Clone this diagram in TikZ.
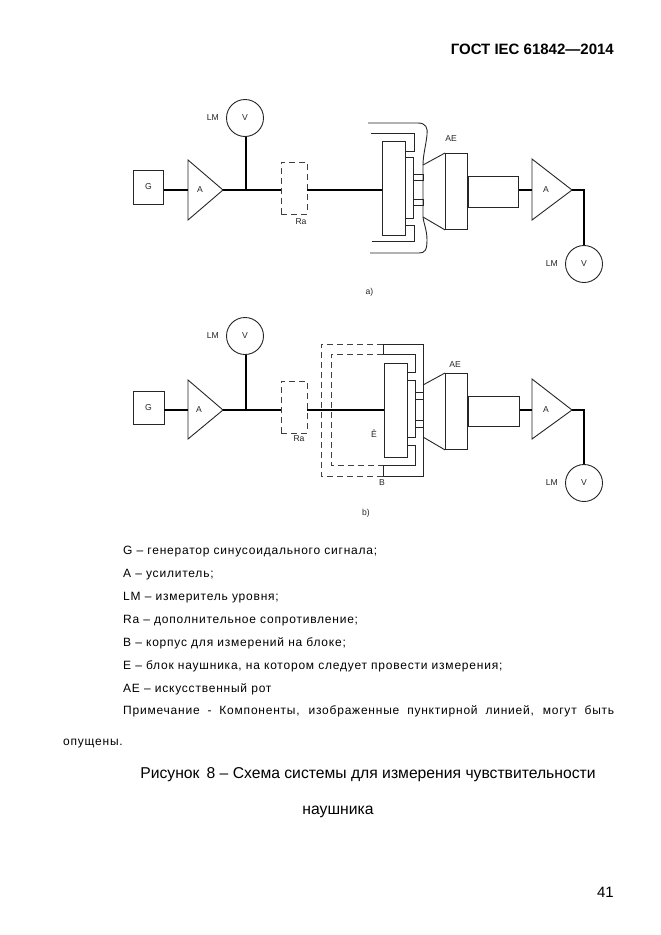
\documentclass[tikz,border=0pt]{standalone}
\usepackage{fontspec}
\setmainfont{Liberation Sans}
\newfontfamily\bodyfont[LetterSpace=6.5]{Liberation Sans}
\usepackage{tikz}
\usetikzlibrary{positioning,calc}

\begin{document}
\begin{tikzpicture}[
  x=1pt, y=-1pt,
  thin line/.style={line width=0.9pt, black!85},
  wire/.style={line width=2.2pt, black},
  dash box/.style={line width=0.8pt, black!75, dash pattern=on 6pt off 4pt},
  box/.style={draw, thin line, inner sep=0pt, font=\fontsize{8.6}{9}\selectfont},
  meter/.style={draw, thin line, circle, minimum size=37pt, inner sep=0pt, font=\fontsize{8.6}{9}\selectfont},
  lbl/.style={font=\fontsize{8.6}{9}\selectfont, inner sep=0pt, text=black!85},
  body/.style={font=\bodyfont\fontsize{12}{14}\selectfont, inner sep=0pt, anchor=base west},
  capt/.style={font=\fontsize{15.7}{18}\selectfont, inner sep=0pt, anchor=base}
]
  \useasboundingbox (0,0) rectangle (661,935);
  \fill[white] (0,0) rectangle (661,935);

  \node[font=\bfseries\fontsize{15}{18}\selectfont, inner sep=0pt, anchor=base east] (hdr) at (614,54) {ГОСТ IEC 61842---2014};

  % ── Figure a ──
  \node[box, minimum width=30pt, minimum height=34pt] (Ga) at (148.5,187) {G};
  \coordinate (Aat) at (188,160);
  \coordinate (Aab) at (188,220);
  \coordinate (Aap) at (223,190);
  \draw[thin line] (Aat) -- (Aap) -- (Aab) -- cycle;
  \node[lbl] (Aal) at (200,190) {A};
  \node[meter] (LMa) at (245,118) {V};
  \node[lbl, left=7pt of LMa] (LMal) {LM};
  \coordinate (Ja) at (246,190);
  \node[draw, dash box, minimum width=26pt, minimum height=52pt, inner sep=0pt] (Raa) at (294,188) {};
  \node[lbl] (Raal) at (301,222) {Ra};
  \draw[wire] (Ga.east |- Aap) -- (Aap -| Aat);
  \draw[wire] (Aap) -- (Raa.west |- Aap);
  \draw[wire] (Ja) -- (LMa.south -| Ja);
  \draw[wire] (Raa.east |- Aap) -- (382,190);

  % ear unit a
  \node[draw, thin line, minimum width=23pt, minimum height=94pt, inner sep=0pt, anchor=north west] (Ea) at (382,141) {};
  \draw[thin line] (405,157) rectangle (413,218);
  \draw[thin line] (413,174) rectangle (423,180);
  \draw[thin line] (413,199) rectangle (423,205);
  \draw[thin line] (405,151) -- (414,151) -- (414,133) -- (371,133);
  \draw[thin line] (405,225) -- (414,225) -- (414,241.5) -- (372,241.5);
  \draw[thin line] (368,123) -- (418,123) .. controls (426,123) and (428,128) .. (427,135)
    .. controls (426,145) and (423,155) .. (423,165) -- (423,217)
    .. controls (424,225) and (427,230) .. (427,240) .. controls (427,250) and (425,253) .. (419,253) -- (370,253);
  \node[draw, thin line, minimum width=22pt, minimum height=76pt, inner sep=0pt, anchor=north west] (AEa) at (445,153) {};
  \draw[thin line] (423,165) -- (AEa.north west);
  \draw[thin line] (423,217) -- (AEa.south west);
  \node[draw, thin line, minimum width=50pt, minimum height=31pt, inner sep=0pt, anchor=west] (Ca) at (AEa.east) {};
  \node[lbl] (AEal) at (451,139) {AE};

  \coordinate (Bat) at (532,159);
  \coordinate (Bab) at (532,220);
  \coordinate (Bap) at (572,190);
  \draw[thin line] (Bat) -- (Bap) -- (Bab) -- cycle;
  \node[lbl] (Bal) at (546,190) {A};
  \node[meter] (LMb) at (584,264) {V};
  \node[lbl, left=7pt of LMb] (LMbl) {LM};
  \draw[wire] (Ca.east |- Bap) -- (Bap -| Bat);
  \draw[wire] (Bap) -- (584,190) -- (LMb.north);
  \node[lbl] (capa) at (369.5,292) {a)};

  % ── Figure b ──
  \node[box, minimum width=31pt, minimum height=33pt] (Gb) at (148.5,407.5) {G};
  \coordinate (Cat) at (188,380);
  \coordinate (Cab) at (188,439);
  \coordinate (Cap) at (223,410);
  \draw[thin line] (Cat) -- (Cap) -- (Cab) -- cycle;
  \node[lbl] (Cal) at (199,410) {A};
  \node[meter] (LMc) at (245,336) {V};
  \node[lbl, left=7pt of LMc] (LMcl) {LM};
  \coordinate (Jb) at (246,410);
  \node[draw, dash box, minimum width=26pt, minimum height=52pt, inner sep=0pt] (Rab) at (294,407) {};
  \node[lbl] (Rabl) at (299,439) {Ra};
  \draw[wire] (Gb.east |- Cap) -- (Cap -| Cat);
  \draw[wire] (Cap) -- (Rab.west |- Cap);
  \draw[wire] (Jb) -- (LMc.south -| Jb);
  \draw[line width=1.8pt] (Rab.east |- Cap) -- (384,410);

  % ear unit b
  \node[draw, thin line, minimum width=23pt, minimum height=94pt, inner sep=0pt, anchor=north west] (Eb) at (384,363) {};
  \draw[thin line] (407,380) rectangle (415,437);
  \draw[thin line] (415,392) rectangle (423,399);
  \draw[thin line] (415,420) rectangle (423,427);
  \draw[thin line] (407,372) -- (415,372) -- (415,354) -- (383,354);
  \draw[thin line] (407,445) -- (415,445) -- (415,465) -- (383,465);
  \draw[thin line] (383,344) -- (423,344) -- (423,476) -- (383,476);
  \draw[thin line] (383,344) -- (383,354);
  \draw[thin line] (383,465) -- (383,476);
  \draw[dash box] (383,344) -- (321,344) -- (321,476) -- (383,476);
  \draw[dash box, line width=0.95pt] (383,354) -- (331,354) -- (331,465) -- (383,465);
  \node[draw, thin line, minimum width=22pt, minimum height=76pt, inner sep=0pt, anchor=north west] (AEb) at (445,373) {};
  \draw[thin line] (423,385) -- (AEb.north west);
  \draw[thin line] (423,437) -- (AEb.south west);
  \node[draw, thin line, minimum width=51pt, minimum height=30pt, inner sep=0pt, anchor=west] (Cb) at (AEb.east) {};
  \node[lbl] (AEbl) at (455,365) {AE};
  \node[lbl] (Ebl) at (374,434) {Ê};
  \node[lbl] (Bbl) at (382,483) {B};

  \coordinate (Dat) at (532,379);
  \coordinate (Dab) at (532,439);
  \coordinate (Dap) at (572,410);
  \draw[thin line] (Dat) -- (Dap) -- (Dab) -- cycle;
  \node[lbl] (Dal) at (546,410) {A};
  \node[meter] (LMd) at (584,483) {V};
  \node[lbl, left=7pt of LMd] (LMdl) {LM};
  \draw[wire] (Cb.east |- Dap) -- (Dap -| Dat);
  \draw[wire] (Dap) -- (584,410) -- (LMd.north);
  \node[lbl] (capb) at (366,513) {b)};

  % ── Text ──
  \node[body] (t1) at (123,554) {G – генератор синусоидального сигнала;};
  \node[body] (t2) at (123,577) {A – усилитель;};
  \node[body] (t3) at (123,600) {LM – измеритель уровня;};
  \node[body] (t4) at (123,623) {Ra – дополнительное сопротивление;};
  \node[body] (t5) at (123,646) {B – корпус для измерений на блоке;};
  \node[body] (t6) at (123,669) {E – блок наушника, на котором следует провести измерения;};
  \node[body] (t7) at (123,692) {AE – искусственный рот};
  \node[body] (t8) at (123,714) {\makebox[491pt][s]{Примечание - Компоненты, изображенные пунктирной линией, могут быть}};
  \node[body] (t9) at (63,745) {опущены.};
  \node[capt] (c1) at (368,778) {Рисунок \,8 -- Схема системы для измерения чувствительности};
  \node[capt] (c2) at (338,814) {наушника};
  \node[font=\fontsize{15}{18}\selectfont, inner sep=0pt, anchor=base east] (pg) at (614,897) {41};
\end{tikzpicture}
\end{document}
